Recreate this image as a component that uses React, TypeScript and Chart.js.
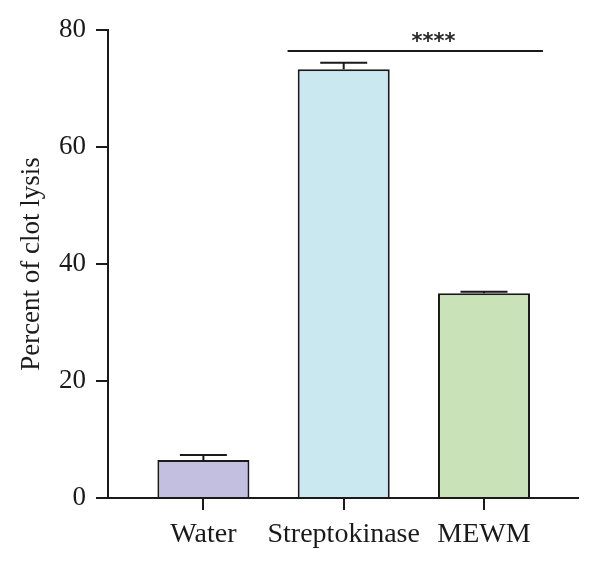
import React, { useEffect, useRef } from "react";
import { Chart, registerables } from "chart.js";

Chart.register(...registerables);

// Groups, mean clot lysis (%) and error (upper whisker)
const categories = ["Water", "Streptokinase", "MEWM"];
const means = [6.5, 73.3, 35.0];
const errors = [0.85, 1.1, 0.25];
const barColors = ["#c3bfe0", "#cae8ef", "#c9e2b7"];
const yTicks = [0, 20, 40, 60, 80];

// Significance bracket (x in group index units, y in % units)
const sigFrom = 0.6;
const sigTo = 2.42;
const sigLevel = 76.4;
const sigLabel = "****";
const sigLabelX = 1.64;

const FONT = "'Liberation Serif', 'Times New Roman', serif";
const INK = "#1a1a1a";

const errorBarsAndBracket = {
  id: "errorBarsAndBracket",
  afterDatasetsDraw(chart: any) {
    const { ctx } = chart;
    const xs = chart.scales.x;
    const ys = chart.scales.y;
    ctx.save();
    ctx.strokeStyle = INK;
    ctx.lineWidth = 2;
    const capHalf = 23.5;
    means.forEach((m, i) => {
      const px = xs.getPixelForValue(i);
      const top = ys.getPixelForValue(m);
      const capY = ys.getPixelForValue(m + errors[i]);
      ctx.beginPath();
      ctx.moveTo(px, top);
      ctx.lineTo(px, capY);
      ctx.moveTo(px - capHalf, capY);
      ctx.lineTo(px + capHalf, capY);
      ctx.stroke();
    });
    // significance line and stars
    const ly = ys.getPixelForValue(sigLevel);
    ctx.beginPath();
    ctx.moveTo(xs.getPixelForValue(sigFrom), ly);
    ctx.lineTo(xs.getPixelForValue(sigTo), ly);
    ctx.stroke();
    ctx.fillStyle = "#2a2a2a";
    ctx.font = `bold 21px 'DejaVu Sans', sans-serif`;
    ctx.textAlign = "center";
    ctx.textBaseline = "middle";
    ctx.fillText(sigLabel, xs.getPixelForValue(sigLabelX), ly - 9);
    ctx.restore();
  },
};

export default function App() {
  const canvasRef = useRef<HTMLCanvasElement | null>(null);

  useEffect(() => {
    if (!canvasRef.current) return;
    const chart = new Chart(canvasRef.current, {
      type: "bar",
      data: {
        datasets: [
          {
            data: means.map((m, i) => ({ x: i, y: m })),
            backgroundColor: barColors,
            borderColor: INK,
            borderWidth: 2,
            categoryPercentage: 1,
            barPercentage: 0.656,
          },
        ],
      },
      options: {
        animation: false,
        responsive: true,
        maintainAspectRatio: false,
        layout: { padding: { top: 30, right: 22, left: 0, bottom: 0 } },
        plugins: {
          legend: { display: false },
          tooltip: { enabled: false },
        },
        scales: {
          x: {
            type: "linear",
            min: -0.68,
            max: 2.67,
            offset: false,
            afterBuildTicks(scale: any) {
              scale.ticks = categories.map((_, i) => ({ value: i }));
            },
            afterFit(scale: any) {
              scale.height = 70;
            },
            ticks: {
              autoSkip: false,
              maxRotation: 0,
              padding: 8,
              color: INK,
              font: { family: FONT, size: 28 },
              callback: (v: any) => categories[Number(v)] ?? "",
            },
            grid: {
              display: true,
              offset: false,
              drawOnChartArea: false,
              drawTicks: true,
              tickLength: 12,
              lineWidth: 2,
              color: INK,
            },
            border: { display: true, color: INK, width: 2 },
          },
          y: {
            min: 0,
            max: 80,
            afterBuildTicks(scale: any) {
              scale.ticks = yTicks.map((v) => ({ value: v }));
            },
            afterFit(scale: any) {
              scale.width = 108;
            },
            ticks: {
              padding: 10,
              color: INK,
              font: { family: FONT, size: 27 },
            },
            grid: {
              display: true,
              drawOnChartArea: false,
              drawTicks: true,
              tickLength: 12,
              lineWidth: 2,
              color: INK,
            },
            border: { display: true, color: INK, width: 2 },
            title: {
              display: true,
              text: "Percent of clot lysis",
              color: INK,
              font: { family: FONT, size: 27 },
              padding: { top: 16, bottom: 0 },
            },
          },
        },
      },
      plugins: [errorBarsAndBracket],
    });
    return () => chart.destroy();
  }, []);

  return (
    <div
      style={{
        position: "fixed",
        left: 0,
        top: 0,
        width: 600,
        height: 568,
        background: "#ffffff",
      }}
    >
      <canvas ref={canvasRef} />
    </div>
  );
}
